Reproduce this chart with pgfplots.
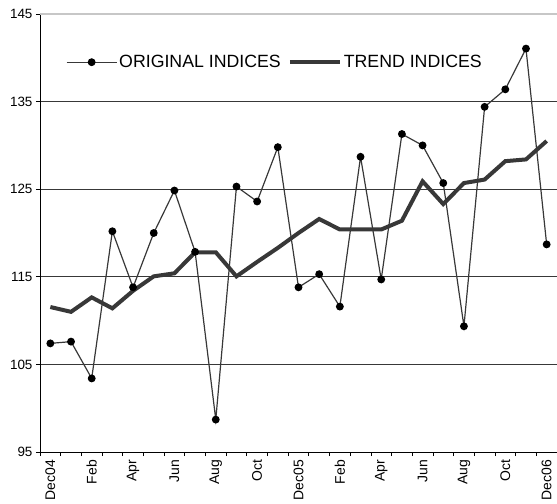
\documentclass[border=0pt]{standalone}
\usepackage{pgfplots}
\pgfplotsset{compat=1.18}
\usepackage{fontspec}
\setmainfont{Liberation Sans}
\definecolor{lineg}{HTML}{383838}
\begin{document}
\begin{tikzpicture}
\useasboundingbox (-40bp,-52bp) rectangle (517bp,452bp);
\begin{axis}[
  at={(0,0)}, anchor=south west,
  scale only axis, width=517bp, height=438bp,
  xmin=-0.5, xmax=24.5, ymin=95, ymax=145,
  axis x line*=bottom, axis y line*=left,
  axis line style={black, line width=0.8pt, -},
  ytick={95,105,...,135},
  extra y ticks={145},
  extra y tick style={major grid style={black!22, line width=1.4pt}},
  ymajorgrids,
  major grid style={lineg, line width=0.7pt},
  xtick={-0.5,0.5,...,24.5},
  xticklabels={},
  extra x ticks={0,2,...,24},
  extra x tick labels={Dec04,Feb,Apr,Jun,Aug,Oct,Dec05,Feb,Apr,Jun,Aug,Oct,Dec06},
  extra x tick style={major tick length=0pt, xmajorgrids=false},
  xticklabel shift=4.5bp,
  tick align=outside,
  major tick length=4bp,
  tick style={black, line width=0.7pt},
  x tick label style={rotate=90, anchor=east, font=\fontsize{14}{16}\selectfont},
  y tick label style={font=\fontsize{13.5}{15}\selectfont},
  /pgf/number format/assume math mode=true,
  legend style={draw=none, fill=none, at={(rel axis cs:0.050,0.89)}, anchor=west,
    inner sep=0pt, font=\fontsize{17.8}{19}\selectfont,
    legend cell align=left,
    /tikz/every even column/.append style={column sep=5bp}},
  legend columns=2,
]
\addlegendimage{lineg, line width=1.2pt, mark=*, mark size=3.3bp, mark options={fill=black, draw=black},
  legend image code/.code={\draw[mark repeat=2, mark phase=2] plot coordinates {(0bp,0bp) (25bp,0bp) (50bp,0bp)};}}
\addlegendentry{ORIGINAL INDICES}
\addlegendimage{lineg, line width=4bp,
  legend image code/.code={\draw (0bp,0bp) -- (50bp,0bp);}}
\addlegendentry{TREND INDICES}

\addplot[lineg, line width=4bp, no marks, forget plot] coordinates {
(0,111.55) (1,111.0) (2,112.65) (3,111.4) (4,113.4) (5,115.05) (6,115.4)
(7,117.8) (8,117.8) (9,115.05) (10,116.7) (11,118.3) (12,120.0) (13,121.6)
(14,120.4) (15,120.4) (16,120.4) (17,121.4) (18,125.9) (19,123.3) (20,125.7)
(21,126.1) (22,128.2) (23,128.4) (24,130.5)
};
\addplot[lineg, line width=1.2pt, mark=*, mark size=3.3bp, mark options={fill=black, draw=black}, forget plot] coordinates {
(0,107.4) (1,107.6) (2,103.4) (3,120.2) (4,113.8) (5,120.0) (6,124.85)
(7,117.85) (8,98.7) (9,125.3) (10,123.6) (11,129.8) (12,113.8) (13,115.3)
(14,111.6) (15,128.7) (16,114.7) (17,131.3) (18,130.0) (19,125.7) (20,109.35)
(21,134.4) (22,136.4) (23,141.05) (24,118.7)
};
\end{axis}
\end{tikzpicture}
\end{document}
